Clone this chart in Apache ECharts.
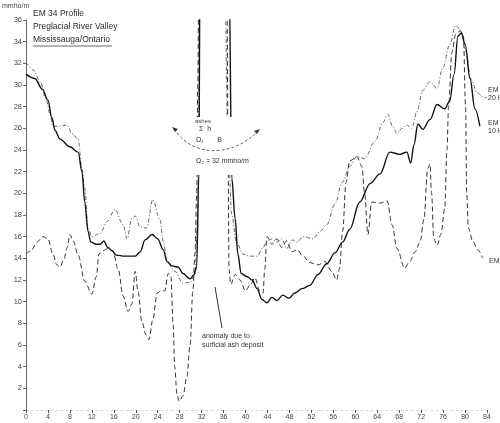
<!DOCTYPE html>
<html>
<head>
<meta charset="utf-8">
<script src="https://cdn.jsdelivr.net/npm/echarts@6/dist/echarts.min.js"></script>
<style>
  html, body { margin: 0; padding: 0; background: #fff; }
  #chart { width: 500px; height: 423px; }
</style>
</head>
<body>
<div id="chart"></div>
<script>
// Station distance ticks and conductivity ticks
const xTicks = [0, 4, 8, 12, 16, 20, 24, 28, 32, 36, 40, 44, 48, 52, 56, 60, 64, 68, 72, 76, 80, 84];
const yTicks = [0, 2, 4, 6, 8, 10, 12, 14, 16, 18, 20, 22, 24, 26, 28, 30, 32, 34, 36];

// EM 34, 10 m coil spacing  [station, mmho/m]  (values above 36 run off the top)
const em10 = [
  [0, 31.0], [1.6, 30.6], [3.0, 29.6], [4.0, 28.6], [4.7, 27.0], [5.3, 25.8], [6.2, 25.0],
  [8.0, 24.3], [9.5, 23.8], [10.2, 22.0], [10.7, 19.2], [11.3, 16.5], [11.8, 15.5], [12.8, 15.3],
  [13.5, 15.3], [14.2, 15.6], [14.9, 15.0], [15.7, 14.7], [16.4, 14.3], [18.0, 14.2], [19.9, 14.2],
  [20.8, 14.6], [21.7, 15.7], [23.0, 16.2], [24.0, 15.8], [25.0, 14.8], [25.7, 13.7], [26.6, 13.3],
  [27.7, 13.2], [28.6, 12.6], [29.9, 12.1], [30.6, 12.5], [31.1, 13.2], [31.5, 22], [31.7, 40],
  [34.3, 50], [37.0, 40], [37.5, 21.4], [38.1, 17.7], [38.6, 14.4], [39.2, 12.6], [40.3, 12.3],
  [41.2, 12.0], [42.1, 11.2], [43.0, 10.2], [43.9, 9.9], [44.8, 10.4], [45.7, 10.1], [46.8, 10.6],
  [47.9, 10.3], [49.0, 10.8], [50.3, 11.2], [51.7, 11.5], [53.2, 12.5], [54.8, 13.5], [56.3, 14.5],
  [57.7, 15.5], [59.0, 16.7], [60.8, 19.2], [62.7, 20.9], [64.5, 21.8], [66.3, 23.8], [68.1, 23.6],
  [69.4, 23.8], [70.1, 22.8], [70.7, 24.5], [71.4, 26.4], [72.3, 25.9], [73.6, 26.8], [74.9, 28.2],
  [76.3, 27.8], [77.2, 28.5], [78.0, 31.0], [78.7, 34.5], [79.3, 34.8], [80.0, 33.8], [80.9, 30.6],
  [81.8, 27.8], [82.7, 26.2]
];

// EM 34, 20 m coil spacing
const em20 = [
  [0, 32.1], [1.3, 31.4], [2.6, 30.3], [3.6, 28.8], [4.4, 27.3], [4.9, 26.2], [6.2, 26.2],
  [7.5, 26.3], [8.4, 25.5], [9.5, 25.0], [10.2, 22.3], [10.7, 20.5], [11.3, 16.8], [12.0, 16.0],
  [13.5, 16.3], [14.8, 17.4], [16.2, 18.5], [17.7, 17.1], [18.4, 15.8], [19.3, 17.7], [19.9, 17.9],
  [20.8, 16.9], [22.0, 16.8], [23.1, 19.4], [24.4, 17.6], [25.0, 15.6], [25.7, 13.7], [27.1, 12.8],
  [28.6, 11.7], [29.9, 11.8], [30.8, 12.5], [31.3, 18], [31.7, 40], [34.3, 50], [36.2, 40],
  [36.8, 25], [37.5, 18.0], [38.3, 15.6], [39.5, 14.4], [40.8, 14.2], [42.1, 14.2], [43.2, 15.0],
  [43.9, 15.6], [44.8, 15.8], [45.7, 15.5], [46.6, 15.8], [47.5, 14.9], [48.5, 15.7], [49.4, 15.5],
  [50.5, 16.0], [52.3, 15.8], [53.6, 16.5], [54.8, 17.1], [56.3, 19.0], [57.6, 21.0], [59.0, 22.5],
  [60.3, 23.4], [61.7, 23.2], [63.6, 24.8], [65.0, 26.5], [65.9, 27.3], [66.8, 26.2], [67.6, 25.5],
  [68.5, 26.0], [69.4, 26.3], [70.3, 26.0], [71.2, 27.5], [72.3, 29.5], [73.6, 30.3], [74.9, 29.7],
  [75.9, 31.5], [77.2, 33.7], [78.3, 35.5], [79.3, 35.0], [80.1, 33.2], [81.1, 30.5], [82.2, 29.3],
  [83.2, 28.9], [84.0, 28.8]
];

// EM 34, 40 m coil spacing
const em40 = [
  [0, 14.4], [0.9, 14.7], [2.0, 15.5], [3.1, 16.0], [4.0, 15.8], [4.9, 14.4], [5.6, 13.4],
  [6.2, 13.2], [6.9, 13.9], [7.5, 15.0], [8.0, 16.2], [8.6, 15.6], [9.5, 14.3], [10.7, 11.9],
  [12.0, 10.7], [12.8, 12.3], [13.3, 14.4], [14.0, 14.7], [14.9, 14.9], [15.8, 14.7], [16.8, 13.0],
  [17.7, 10.5], [18.6, 9.1], [19.3, 9.8], [19.9, 12.8], [20.4, 11.0], [21.1, 8.2], [21.9, 6.9],
  [22.4, 6.5], [23.1, 8.3], [23.9, 10.8], [24.6, 11.0], [25.3, 11.0], [25.9, 12.6], [26.4, 12.4],
  [26.8, 8], [27.1, 4], [27.5, 1.5], [27.9, 0.8], [28.6, 1.3], [29.3, 3], [29.9, 6], [30.4, 11],
  [30.8, 14.5], [31.1, 20], [31.3, 30], [31.5, 40], [34.3, 50], [36.6, 40], [36.8, 25], [37.0, 13],
  [37.3, 11.6], [38.1, 12.5], [39.0, 12.0], [40.0, 11.0], [40.8, 11.5], [41.7, 12.2], [42.6, 11.0],
  [43.2, 10.8], [43.5, 13], [43.9, 16.0], [44.8, 15.3], [45.7, 15.8], [46.6, 15.0], [47.5, 15.6],
  [48.5, 14.6], [49.4, 14.8], [50.5, 14.2], [51.7, 13.6], [53.2, 13.4], [54.5, 13.7], [55.7, 12.8],
  [56.6, 12.0], [57.1, 13.0], [57.7, 16.5], [58.3, 21.0], [59.0, 23.0], [60.3, 23.4], [61.2, 22.5],
  [61.7, 20.0], [62.3, 16.2], [63.0, 19.2], [64.5, 19.1], [65.8, 19.3], [66.7, 17.1], [67.6, 14.9],
  [69.0, 13.1], [69.9, 13.7], [70.9, 14.6], [71.8, 15.5], [72.5, 17.6], [73.2, 22.3], [73.6, 22.7],
  [73.9, 20.0], [74.3, 15.8], [74.9, 15.2], [75.6, 16.2], [76.3, 18.6], [76.7, 24], [77.0, 28],
  [77.6, 33.0], [78.3, 34.7], [79.1, 35.0], [79.7, 34.5], [80.1, 28], [80.3, 20], [80.6, 16.8],
  [81.4, 15.6], [82.3, 14.8], [83.2, 14.0]
];

const FONT = 'Liberation Sans';
const INK = '#2a2a2a';

const chart = echarts.init(document.getElementById('chart'), null, { renderer: 'canvas' });

function lineSeries(name, data, style, z) {
  return {
    name, type: 'line', data, z,
    showSymbol: false, smooth: 0.35, smoothMonotone: 'x', clip: true,
    lineStyle: style, emphasis: { disabled: true }
  };
}

chart.setOption({
  animation: false,
  backgroundColor: '#ffffff',
  grid: { left: 26, right: 13, top: 20, bottom: 13 },
  xAxis: {
    type: 'value', min: xTicks[0], max: xTicks[xTicks.length - 1], interval: 4,
    axisLine: { show: true, lineStyle: { color: '#d8d8d8', width: 1, type: [2, 3] } },
    axisTick: { show: true, length: 3, lineStyle: { color: '#555' } },
    axisLabel: { fontFamily: FONT, fontSize: 7, color: '#444', margin: 4 },
    splitLine: { show: false }
  },
  yAxis: {
    type: 'value', min: yTicks[0], max: yTicks[yTicks.length - 1], interval: 2,
    axisLine: { show: true, lineStyle: { color: '#666', width: 1 } },
    axisTick: { show: true, length: 3, lineStyle: { color: '#666' } },
    axisLabel: { fontFamily: FONT, fontSize: 7.5, color: '#444', margin: 4,
      formatter: v => (v === 0 ? '' : String(v)) },
    splitLine: { show: false }
  },
  series: [
    lineSeries('EM 20', em20, { color: '#555', width: 0.9, type: [4, 2, 1, 2] }, 2),
    lineSeries('EM 40', em40, { color: '#333', width: 1, type: [5, 3] }, 3),
    lineSeries('EM 10', em10, { color: '#111', width: 1.4, type: 'solid' }, 4)
  ],
  graphic: [
    // unit label
    { type: 'text', left: 2, top: 3, z: 10,
      style: { text: 'mmho/m', font: '7px ' + FONT, fill: '#444' } },
    // title block
    { type: 'text', left: 33, top: 9, z: 10,
      style: { text: 'EM 34 Profile', font: '8.5px ' + FONT, fill: INK } },
    { type: 'text', left: 33, top: 22, z: 10,
      style: { text: 'Preglacial River Valley', font: '8.5px ' + FONT, fill: INK } },
    { type: 'text', left: 33, top: 35, z: 10,
      style: { text: 'Mississauga/Ontario', font: '8.5px ' + FONT, fill: INK } },
    { type: 'line', z: 10, shape: { x1: 33, y1: 46, x2: 112, y2: 46 },
      style: { stroke: '#444', lineWidth: 0.8 } },
    // white panel behind the ash-layer sketch
    { type: 'rect', z: 8, shape: { x: 168, y: 117, width: 100, height: 58 },
      style: { fill: '#fff' } },
    { type: 'text', left: 195, top: 118, z: 10,
      style: { text: 'ashes', font: '6px ' + FONT, fill: '#444' } },
    { type: 'text', left: 199, top: 126, z: 10,
      style: { text: 'Σ  h', font: '7px ' + FONT, fill: '#333' } },
    { type: 'text', left: 196, top: 137, z: 10,
      style: { text: 'Ω₁       B', font: '7px ' + FONT, fill: '#333' } },
    { type: 'bezierCurve', z: 10,
      shape: { x1: 174, y1: 129, cpx1: 195, cpy1: 160, cpx2: 235, cpy2: 155, x2: 258, y2: 131 },
      style: { stroke: '#444', lineWidth: 0.8, fill: null, lineDash: [3, 2] } },
    { type: 'polygon', z: 10, shape: { points: [[172, 127], [178, 129], [175, 132]] },
      style: { fill: '#333' } },
    { type: 'polygon', z: 10, shape: { points: [[260, 129], [254, 131], [257, 134]] },
      style: { fill: '#333' } },
    { type: 'text', left: 196, top: 158, z: 10,
      style: { text: 'Ω₂ = 32 mmho/m', font: '7px ' + FONT, fill: '#333' } },
    // note on the low reading
    { type: 'line', z: 10, shape: { x1: 215, y1: 287, x2: 222, y2: 328 },
      style: { stroke: '#333', lineWidth: 1 } },
    { type: 'text', left: 202, top: 332, z: 10,
      style: { text: 'anomaly due to\nsurficial ash deposit', font: '7px ' + FONT,
        fill: '#333', lineHeight: 9 } },
    // series labels at the right edge
    { type: 'text', left: 488, top: 86, z: 10,
      style: { text: 'EM\n20 H', font: '7px ' + FONT, fill: '#333', lineHeight: 8 } },
    { type: 'text', left: 488, top: 119, z: 10,
      style: { text: 'EM\n10 H', font: '7px ' + FONT, fill: '#333', lineHeight: 8 } },
    { type: 'text', left: 489, top: 258, z: 10,
      style: { text: 'EM', font: '7px ' + FONT, fill: '#333' } }
  ]
});
</script>
</body>
</html>
